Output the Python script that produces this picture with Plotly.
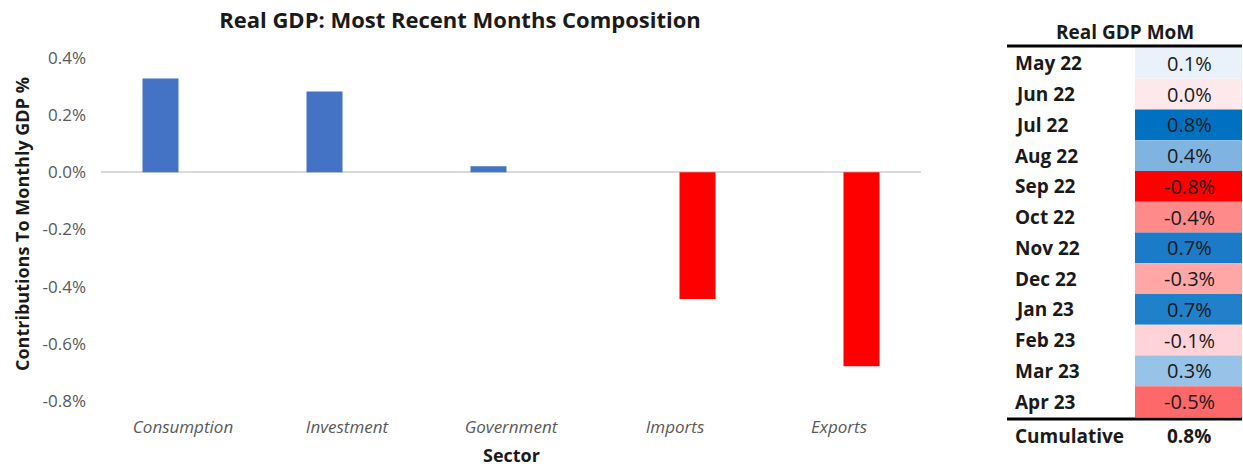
import plotly.graph_objects as go

# ---------------- data ----------------
sectors = ["Consumption", "Investment", "Government", "Imports", "Exports"]
contrib = [0.328, 0.283, 0.021, -0.443, -0.678]          # % contribution to monthly GDP
y_ticks = [0.4, 0.2, 0.0, -0.2, -0.4, -0.6, -0.8]

months = ["May 22", "Jun 22", "Jul 22", "Aug 22", "Sep 22", "Oct 22",
          "Nov 22", "Dec 22", "Jan 23", "Feb 23", "Mar 23", "Apr 23"]
mom = [0.1, 0.0, 0.8, 0.4, -0.8, -0.4, 0.7, -0.3, 0.7, -0.1, 0.3, -0.5]
cell_colors = ["#E9F1FA", "#FDE9EB", "#0070C0", "#80B4E0", "#FF0000", "#FF8A8A",
               "#1C7BC8", "#FFA6A6", "#2080CA", "#FFD3D7", "#96C3E7", "#FF6868"]
cumulative_label = "Cumulative"
cumulative = 0.8

W, H = 1243, 466
FONT = "Open Sans"

def px_x(p):
    return p / W

def px_y(p):
    return 1 - p / H

fig = go.Figure()

# ---------------- bar chart ----------------
cat_w_px = 164.0
bar_w = 36 / cat_w_px
shift = 22.5 / cat_w_px
pos = [v if v > 0 else None for v in contrib]
neg = [v if v < 0 else None for v in contrib]

fig.add_trace(go.Bar(x=sectors, y=pos, marker=dict(color="#4472C4", line=dict(width=0)),
                     width=bar_w, offset=-shift - bar_w / 2, xaxis="x", yaxis="y",
                     showlegend=False, hoverinfo="x+y"))
fig.add_trace(go.Bar(x=sectors, y=neg, marker=dict(color="#FF0000", line=dict(width=0)),
                     width=bar_w, offset=shift - bar_w / 2, xaxis="x", yaxis="y",
                     showlegend=False, hoverinfo="x+y"))

# ---------------- table (heat cells) ----------------
cell_left = (1135 - 1007) / 235
fig.add_trace(go.Bar(y=months, x=[1 - cell_left] * len(months), base=[cell_left] * len(months),
                     orientation="h", width=1,
                     marker=dict(color=cell_colors, line=dict(width=0)),
                     xaxis="x2", yaxis="y2", showlegend=False, hoverinfo="skip"))

TFS = 20
annotations = []
val_x = (1189 - 1007) / 235
lab_x = (1013 - 1007) / 235
for m, v in zip(months, mom):
    annotations.append(dict(x=lab_x, y=m, xref="x2", yref="y2", text=m, showarrow=False,
                            xanchor="left", yanchor="middle",
                            font=dict(family=FONT, size=TFS - 1, color="#1A1A1A", weight="bold")))
    annotations.append(dict(x=val_x, y=m, xref="x2", yref="y2", text=f"{v:.1f}%", showarrow=False,
                            xanchor="center", yanchor="middle",
                            font=dict(family=FONT, size=TFS, color="#1A1A1A")))

annotations.append(dict(x=lab_x, y=cumulative_label, xref="x2", yref="y2", text=cumulative_label,
                        showarrow=False, xanchor="left", yanchor="middle", yshift=-4,
                        font=dict(family=FONT, size=TFS - 1, color="#1A1A1A", weight="bold")))
annotations.append(dict(x=val_x, y=cumulative_label, xref="x2", yref="y2", text=f"{cumulative:.1f}%",
                        showarrow=False, xanchor="center", yanchor="middle", yshift=-4,
                        font=dict(family=FONT, size=TFS - 1, color="#1A1A1A", weight="bold")))
# table header
annotations.append(dict(x=px_x(1125), y=px_y(32), xref="paper", yref="paper", text="Real GDP MoM",
                        showarrow=False, xanchor="center", yanchor="middle",
                        font=dict(family=FONT, size=TFS - 1, color="#1A1A1A", weight="bold")))

# chart axis titles
annotations.append(dict(x=px_x(22), y=px_y(224), xref="paper", yref="paper",
                        text="Contributions To Monthly GDP %", textangle=-90, showarrow=False,
                        xanchor="center", yanchor="middle",
                        font=dict(family=FONT, size=18, color="#1A1A1A", weight="bold")))
annotations.append(dict(x=px_x(512), y=px_y(455), xref="paper", yref="paper",
                        text="Sector", showarrow=False, xanchor="center", yanchor="middle",
                        font=dict(family=FONT, size=18, color="#1A1A1A", weight="bold")))

shapes = [
    dict(type="line", xref="paper", yref="paper", x0=px_x(1007), x1=px_x(1242),
         y0=px_y(46), y1=px_y(46), line=dict(color="black", width=3)),
    dict(type="line", xref="paper", yref="paper", x0=px_x(1007), x1=px_x(1242),
         y0=px_y(419), y1=px_y(419), line=dict(color="black", width=3)),
]

fig.update_layout(
    width=W, height=H,
    margin=dict(l=0, r=0, t=0, b=0, pad=0, autoexpand=False),
    paper_bgcolor="white", plot_bgcolor="white",
    barmode="overlay",
    font=dict(family=FONT, color="#595959"),
    title=dict(text="<b>Real GDP: Most Recent Months Composition</b>",
               x=px_x(460), y=px_y(20), xanchor="center", yanchor="middle",
               xref="container", yref="container", automargin=False,
               font=dict(family=FONT, size=22, color="#1A1A1A")),
    xaxis=dict(domain=[px_x(101), px_x(921)], type="category", showgrid=False, automargin=False,
               showline=False, ticks="", ticklabelstandoff=14,
               tickfont=dict(family=FONT, size=17, color="#595959", style="italic")),
    yaxis=dict(domain=[px_y(401), px_y(58)], range=[-0.8, 0.4], showgrid=False, automargin=False,
               zeroline=True, zerolinecolor="#D9D9D9", zerolinewidth=2,
               tickvals=y_ticks, ticktext=[f"{t:.1f}%" for t in y_ticks],
               ticks="", ticklabelstandoff=14, showline=False,
               tickfont=dict(family=FONT, size=17, color="#595959")),
    xaxis2=dict(domain=[px_x(1007), px_x(1242)], range=[0, 1], visible=False, anchor="y2",
                automargin=False),
    yaxis2=dict(domain=[px_y(447.75), px_y(17.25)], range=[12.5, -1.5], type="category",
                categoryorder="array", categoryarray=months + [cumulative_label],
                visible=False, anchor="x2", automargin=False),
    annotations=annotations,
    shapes=shapes,
)

fig.write_html("out.html")
